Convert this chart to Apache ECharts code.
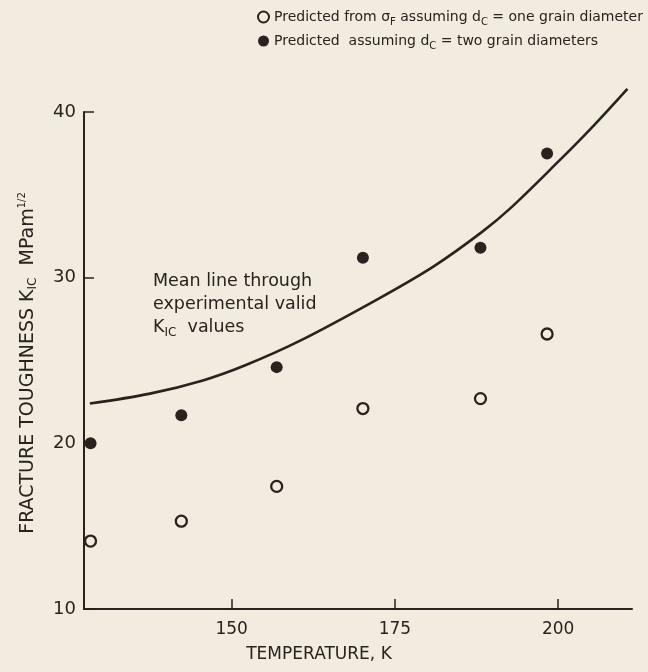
<!DOCTYPE html>
<html><head><meta charset="utf-8">
<script src="https://cdn.jsdelivr.net/npm/echarts@6/dist/echarts.min.js"></script>
<style>html,body{margin:0;padding:0;background:#f1ecdf;}#c{width:648px;height:672px;}</style>
</head><body><div id="c"></div>
<script>
// Data
const tempK = [128.4, 142.3, 156.9, 170.1, 188.1, 198.3];
const predOneGrain = [14.1, 15.3, 17.4, 22.1, 22.7, 26.6];
const predTwoGrain = [20.0, 21.7, 24.6, 31.2, 31.8, 37.5];
const meanLineT = [128.3, 137.5, 145.6, 152.0, 160.5, 172.8, 181.0, 188.3, 192.7, 200.0, 205.0, 210.6];
const meanLineK = [22.4, 23.0, 23.8, 24.7, 26.2, 28.8, 30.7, 32.75, 34.2, 37.0, 39.0, 41.4];
const xTicks = [150, 175, 200];
const yTicks = [10, 20, 30, 40];

const ink = '#2a221e';
const bg = '#f1ecdf';
const font = 'DejaVu Sans';
const sub = {fontFamily: font, fontSize: 10, color: ink, verticalAlign: 'bottom', lineHeight: 8};
const sup = {fontFamily: font, fontSize: 10, color: ink, verticalAlign: 'top', lineHeight: 6};

const zip = (a, b) => a.map((v, i) => [v, b[i]]);
const chart = echarts.init(document.getElementById('c'));
chart.setOption({
  backgroundColor: bg,
  animation: false,
  grid: {left: 84, right: 16, top: 112, bottom: 63},
  legend: {
    data: ['one', 'two'], orient: 'vertical', left: 252, top: 2, itemGap: 4,
    itemWidth: 11, itemHeight: 11, icon: 'circle',
    textStyle: {fontFamily: font, fontSize: 14, color: ink, lineHeight: 20, rich: {s: sub}},
    formatter: n => n === 'one'
      ? 'Predicted from \u03c3{s|F} assuming d{s|C} = one grain diameter'
      : 'Predicted  assuming d{s|C} = two grain diameters'
  },
  xAxis: {
    type: 'value', min: 127.4, max: 211.3,
    axisLine: {show: true, onZero: false, lineStyle: {color: ink, width: 2}},
    axisTick: {show: true, inside: true, length: 10, customValues: xTicks, lineStyle: {color: ink, width: 1.5}},
    axisLabel: {customValues: xTicks, margin: 12, fontFamily: font, fontSize: 17, color: ink},
    splitLine: {show: false}
  },
  yAxis: {
    type: 'value', min: 10, max: 40, interval: 10,
    axisLine: {show: true, onZero: false, lineStyle: {color: ink, width: 2}},
    axisTick: {show: true, inside: true, length: 10, lineStyle: {color: ink, width: 1.5}},
    axisLabel: {margin: 8, fontFamily: font, fontSize: 18, color: ink},
    splitLine: {show: false}
  },
  series: [
    {name: 'mean', type: 'line', data: zip(meanLineT, meanLineK), smooth: 0.35, showSymbol: false,
     clip: false, lineStyle: {color: ink, width: 2.6}},
    {name: 'one', type: 'scatter', data: zip(tempK, predOneGrain), symbol: 'circle', symbolSize: 11,
     itemStyle: {color: bg, borderColor: ink, borderWidth: 2.3, opacity: 1}},
    {name: 'two', type: 'scatter', data: zip(tempK, predTwoGrain), symbol: 'circle', symbolSize: 12,
     itemStyle: {color: ink, opacity: 1}}
  ],
  graphic: [
    {type: 'text', x: 28, y: 363, rotation: Math.PI / 2,
     style: {text: 'FRACTURE TOUGHNESS K{s|IC}  MPam{p|1/2}', fontFamily: font, fontSize: 19, fill: ink,
       align: 'center', verticalAlign: 'middle', lineHeight: 22,
       rich: {s: Object.assign({}, sub, {fontSize: 12}), p: sup}}},
    {type: 'text', x: 319, y: 655,
     style: {text: 'TEMPERATURE, K', fontFamily: font, fontSize: 17, fill: ink, align: 'center', verticalAlign: 'middle'}},
    {type: 'text', x: 153, y: 270,
     style: {text: 'Mean line through\nexperimental valid\nK{s|IC}  values', fontFamily: font, fontSize: 17.5, fill: ink,
       lineHeight: 23, rich: {s: Object.assign({}, sub, {fontSize: 12})}}}
  ]
});
</script></body></html>
